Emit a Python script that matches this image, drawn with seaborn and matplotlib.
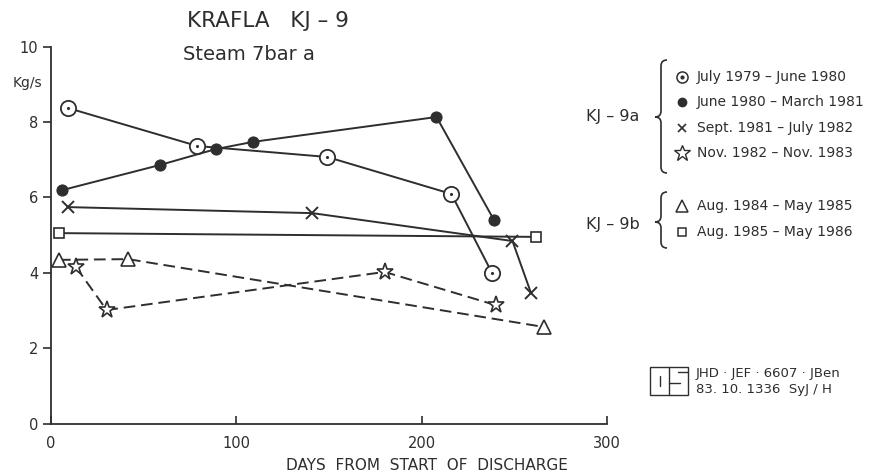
import matplotlib
matplotlib.use("Agg")
import matplotlib.pyplot as plt
import seaborn as sns
import pandas as pd
from matplotlib.lines import Line2D
from matplotlib.patches import PathPatch, Rectangle
from matplotlib.path import Path

# Steam flow (kg/s at 7 bar a) versus days from start of discharge
jul79_days = [9, 79, 149, 216, 238]
jul79_flow = [8.37, 7.36, 7.07, 6.09, 3.99]

jun80_days = [6, 59, 89, 109, 208, 239]
jun80_flow = [6.19, 6.86, 7.28, 7.47, 8.13, 5.40]

sep81_days = [9, 141, 249, 259]
sep81_flow = [5.74, 5.58, 4.84, 3.46]

nov82_days = [13.5, 30, 180, 240]
nov82_flow = [4.15, 3.01, 4.02, 3.14]

aug84_days = [4.3, 41.6, 266]
aug84_flow = [4.34, 4.36, 2.56]

aug85_days = [4.3, 261.7]
aug85_flow = [5.05, 4.95]

periods_9a = ["July 1979 \u2013 June 1980", "June 1980 \u2013 March 1981",
              "Sept. 1981 \u2013 July 1982", "Nov. 1982 \u2013 Nov. 1983"]
periods_9b = ["Aug. 1984 \u2013 May 1985", "Aug. 1985 \u2013 May 1986"]

x_ticks = [0, 100, 200, 300]
y_ticks = [0, 2, 4, 6, 8, 10]

INK = "#2e2e2e"
W, H = 877, 476

sns.set_style("ticks")
plt.rcParams["font.family"] = ["DejaVu Sans"]

fig = plt.figure(figsize=(W / 100, H / 100), dpi=100)
ax = fig.add_axes([51 / W, (H - 423.5) / H, (607 - 51) / W, (423.5 - 46.5) / H])


def series(days, flow):
    return pd.DataFrame({"days": days, "flow": flow})


common = dict(x="days", y="flow", ax=ax, color=INK, linewidth=1.4,
              sort=False, estimator=None, clip_on=False)

sns.lineplot(data=series(jul79_days, jul79_flow), marker="o", markersize=11,
             markerfacecolor="white", markeredgecolor=INK, markeredgewidth=1.3,
             **common)
sns.scatterplot(data=series(jul79_days, jul79_flow), x="days", y="flow", ax=ax,
                color=INK, s=5, linewidth=0, zorder=5, clip_on=False)
sns.lineplot(data=series(jun80_days, jun80_flow), marker="o", markersize=8,
             markerfacecolor=INK, markeredgecolor=INK, **common)
sns.lineplot(data=series(sep81_days, sep81_flow), marker="x", markersize=8,
             markeredgewidth=1.4, markeredgecolor=INK, **common)
sns.lineplot(data=series(nov82_days, nov82_flow), marker="*", markersize=12.5,
             markerfacecolor="white", markeredgecolor=INK, markeredgewidth=1.2,
             linestyle=(0, (6, 3)), **common)
sns.lineplot(data=series(aug84_days, aug84_flow), marker="^", markersize=10,
             markerfacecolor="white", markeredgecolor=INK, markeredgewidth=1.2,
             linestyle=(0, (6, 3)), **common)
sns.lineplot(data=series(aug85_days, aug85_flow), marker="s", markersize=7,
             markerfacecolor="white", markeredgecolor=INK, markeredgewidth=1.2,
             **common)

ax.set_xlim(0, 300)
ax.set_ylim(0, 10)
ax.set_xticks(x_ticks)
ax.set_yticks(y_ticks)
ax.set_xlabel("")
ax.set_ylabel("")
sns.despine(ax=ax)
for s in ("left", "bottom"):
    ax.spines[s].set_color(INK)
    ax.spines[s].set_linewidth(1.3)
ax.tick_params(axis="y", direction="out", length=6, width=1.2, colors=INK,
               labelsize=10.5, pad=3)
ax.tick_params(axis="x", direction="in", length=6, width=1.2, colors=INK,
               labelsize=10.5, pad=9)


def fx(x):
    return x / W


def fy(y):
    return 1 - y / H


# Titles and axis annotations
fig.text(fx(187), fy(21), "KRAFLA   KJ \u2013 9", fontsize=15.5, color=INK,
         ha="left", va="center")
fig.text(fx(183), fy(55), "Steam 7bar a", fontsize=14, color=INK,
         ha="left", va="center")
fig.text(fx(27), fy(83), "Kg/s", fontsize=10, color=INK, ha="center", va="center")
fig.text(fx(427), fy(465), "DAYS  FROM  START  OF  DISCHARGE", fontsize=11,
         color=INK, ha="center", va="center")


def brace(x_tip, x_r, top, bottom, mid):
    x_m = (x_tip + x_r) / 2
    r = 6
    pts = [(x_r, top), (x_m, top), (x_m, top + r),
           (x_m, mid - r), (x_m, mid), (x_tip, mid),
           (x_m, mid), (x_m, mid + r),
           (x_m, bottom - r), (x_m, bottom), (x_r, bottom)]
    codes = [Path.MOVETO, Path.CURVE3, Path.CURVE3,
             Path.LINETO, Path.CURVE3, Path.CURVE3,
             Path.CURVE3, Path.CURVE3,
             Path.LINETO, Path.CURVE3, Path.CURVE3]
    verts = [(fx(a), fy(b)) for a, b in pts]
    fig.add_artist(PathPatch(Path(verts, codes), transform=fig.transFigure,
                             fill=False, edgecolor=INK, linewidth=1.2))


def legend_row(y, label, **marker_kw):
    fig.add_artist(Line2D([fx(682)], [fy(y)], transform=fig.transFigure,
                          linestyle="none", color=INK, **marker_kw))
    fig.text(fx(697), fy(y), label, fontsize=10, color=INK, ha="left", va="center")


# KJ-9a group
fig.text(fx(586), fy(117), "KJ \u2013 9a", fontsize=11.5, color=INK,
         ha="left", va="center")
brace(655, 667, 60, 173, 117)
rows_9a = [77, 102, 128, 153]
legend_row(rows_9a[0], periods_9a[0], marker="o", markersize=8,
           markerfacecolor="white", markeredgecolor=INK, markeredgewidth=1.1)
fig.add_artist(Line2D([fx(682)], [fy(rows_9a[0])], transform=fig.transFigure,
                      linestyle="none", marker="o", markersize=2, color=INK))
legend_row(rows_9a[1], periods_9a[1], marker="o", markersize=6,
           markerfacecolor=INK, markeredgecolor=INK)
legend_row(rows_9a[2], periods_9a[2], marker="x", markersize=6,
           markeredgewidth=1.2, markeredgecolor=INK)
legend_row(rows_9a[3], periods_9a[3], marker="*", markersize=12,
           markerfacecolor="white", markeredgecolor=INK, markeredgewidth=1.0)

# KJ-9b group
fig.text(fx(586), fy(224), "KJ \u2013 9b", fontsize=11.5, color=INK,
         ha="left", va="center")
brace(655, 667, 192, 248, 222)
legend_row(206, periods_9b[0], marker="^", markersize=9,
           markerfacecolor="white", markeredgecolor=INK, markeredgewidth=1.1)
legend_row(232, periods_9b[1], marker="s", markersize=6,
           markerfacecolor="white", markeredgecolor=INK, markeredgewidth=1.1)

# Drawing stamp
def seg(x0, y0, x1, y1):
    fig.add_artist(Line2D([fx(x0), fx(x1)], [fy(y0), fy(y1)],
                          transform=fig.transFigure, color=INK, linewidth=1.0))


fig.add_artist(Rectangle((fx(650), fy(395)), (688 - 650) / W, (395 - 367) / H,
                         transform=fig.transFigure, fill=False,
                         edgecolor=INK, linewidth=1.0))
seg(669, 367, 669, 395)
seg(660, 376, 660, 386)
seg(669, 383, 680, 383)
seg(678, 372, 688, 372)
fig.text(fx(696), fy(373), "JHD \u00b7 JEF \u00b7 6607 \u00b7 JBen", fontsize=9.5,
         color=INK, ha="left", va="center")
fig.text(fx(696), fy(389), "83. 10. 1336  SyJ / H", fontsize=9.5,
         color=INK, ha="left", va="center")

fig.savefig("out.png", dpi=100, facecolor="white")
